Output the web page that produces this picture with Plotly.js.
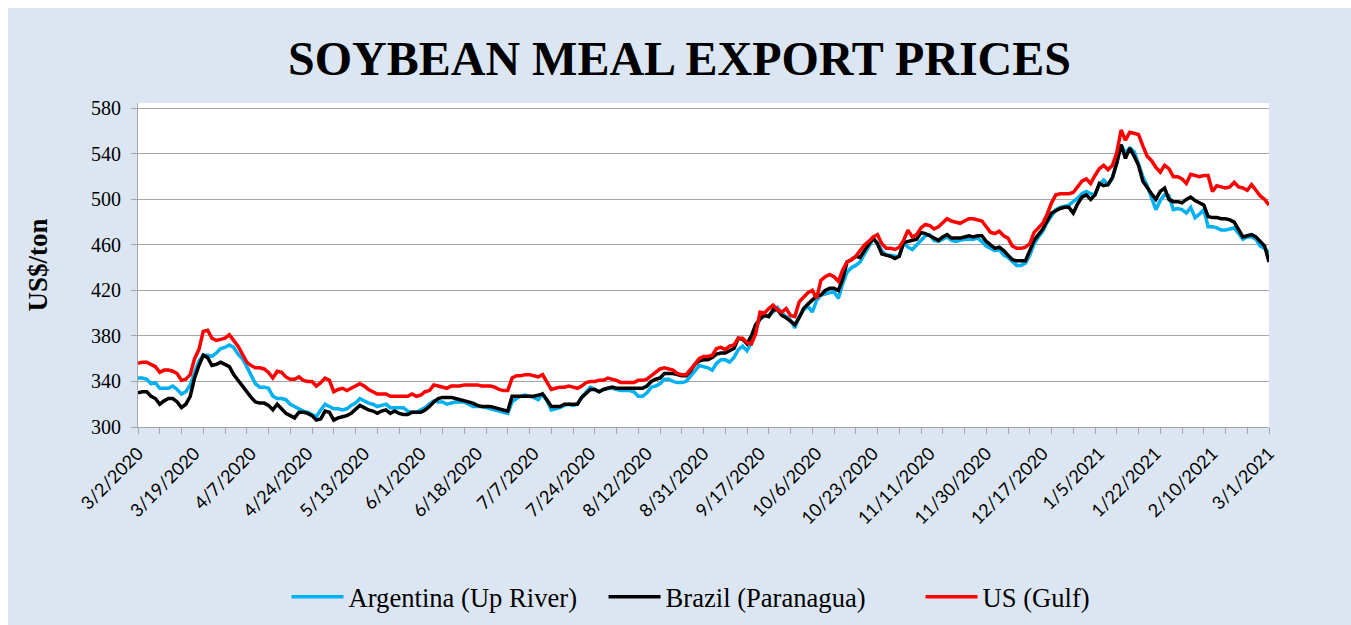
<!DOCTYPE html>
<html><head><meta charset="utf-8">
<script src="https://cdn.plot.ly/plotly-3.0.1.min.js"></script>
<style>
html,body{margin:0;padding:0;background:#ffffff;width:1351px;height:625px;overflow:hidden}
#chart{position:absolute;left:8px;top:8px;width:1343px;height:617px}
</style>
</head><body><div id="chart"></div>
<script>
// ---- Data (US$/ton), one value per weekday from 3/2/2020 to 3/1/2021 ----
const seriesNames = ['Argentina (Up River)', 'Brazil (Paranagua)', 'US (Gulf)'];

const argentina = [
 343,343,342,338,339,334,334,334,336,333,329,331,337,348,358,363,363,362,365,369,370,372,370,364,360,353,345,338,335,335,334,327,325,325,324,320,318,
 316,314,313,311,309,315,320,318,316,316,315,316,319,321,325,323,321,320,318,319,320,317,317,317,317,314,313,313,315,317,320,323,322,322,320,321,322,322,322,320,318,318,318,317,316,315,314,313,312,322,325,
 327,328,327,326,324,329,323,315,316,317,319,320,319,320,326,331,335,333,331,333,334,334,333,332,332,332,331,327,327,330,335,336,338,342,342,340,339,339,340,344,349,354,353,352,350,356,359,359,357,361,368,371,367,
 374,386,395,398,398,401,405,400,397,394,387,397,403,406,401,411,416,417,418,419,413,426,436,440,442,445,452,459,465,462,455,451,451,450,450,462,458,456,460,465,468,469,464,463,465,467,464,463,464,465,465,
 465,466,463,459,457,455,456,451,449,445,442,442,444,451,461,467,472,480,486,491,493,494,495,498,501,505,507,505,504,513,517,513,519,532,
 548,541,545,542,530,520,512,502,491,499,504,503,491,492,491,488,493,484,487,491,476,476,475,473,473,474,475,470,465,467,467,465,459,457,453
];

const brazil = [
 330,331,331,327,325,320,323,325,325,322,317,320,327,343,354,363,361,354,355,357,355,353,346,341,335,330,326,322,321,321,319,315,320,316,312,310,308,
 313,313,312,310,306,307,314,313,306,308,309,310,312,316,319,317,315,314,312,314,315,312,314,312,311,311,313,313,313,315,318,322,325,326,326,326,325,324,323,322,321,319,318,318,318,317,316,315,314,327,327,
 327,327,327,327,328,329,324,318,318,318,320,320,320,320,326,330,333,333,331,333,334,335,334,334,334,334,334,334,334,336,340,342,343,347,347,347,346,345,345,349,355,358,359,359,361,364,365,365,367,369,378,377,373,
 380,390,395,398,397,403,403,398,396,393,390,396,404,408,412,415,416,420,422,422,420,430,445,447,450,449,455,460,466,461,452,451,450,448,450,462,463,464,465,471,470,468,466,464,467,469,466,466,466,467,468,
 467,468,468,463,460,457,458,455,451,447,446,446,446,455,464,469,474,481,488,490,492,493,493,488,496,502,504,500,504,514,512,513,519,532,
 548,536,545,538,530,516,510,505,500,507,510,500,498,498,497,500,502,499,497,495,485,484,484,483,483,482,480,473,467,468,469,467,463,459,445
];

const usGulf = [
 356,357,357,355,353,348,350,350,349,347,341,342,346,360,368,384,385,378,376,377,378,381,376,371,364,357,354,352,352,351,348,343,349,348,344,342,342,
 344,341,340,340,336,339,343,341,331,333,334,332,334,336,338,336,333,331,329,329,329,327,327,327,327,327,329,327,328,331,332,337,336,335,334,336,336,336,337,337,337,337,336,336,336,335,333,332,332,343,345,
 345,346,346,345,344,346,340,333,334,335,335,336,335,334,336,339,340,340,341,341,343,342,341,339,339,339,339,341,341,342,345,348,351,352,351,350,347,346,346,350,355,360,362,362,363,369,370,368,371,372,378,378,374,
 373,382,401,400,404,407,403,401,404,398,397,410,414,418,420,413,429,432,434,432,428,438,445,447,450,455,460,463,467,469,461,457,457,456,458,464,473,467,469,475,478,477,474,476,480,483,481,480,479,481,483,
 483,482,481,476,471,470,472,468,466,459,457,457,458,461,471,475,479,487,497,504,505,505,505,506,511,516,518,514,521,527,530,526,530,541,
 561,552,559,558,557,547,538,534,528,524,530,527,520,520,518,514,522,521,520,521,521,507,512,511,510,511,515,511,510,508,513,508,503,500,495
];

const tickLabels = ['3/2/2020','3/19/2020','4/7/2020','4/24/2020','5/13/2020','6/1/2020','6/18/2020','7/7/2020','7/24/2020','8/12/2020','8/31/2020','9/17/2020','10/6/2020','10/23/2020','11/11/2020','11/30/2020','12/17/2020','1/5/2021','1/22/2021','2/10/2021','3/1/2021'];

const seriesColors = ['#00b0f0', '#000000', '#ff0000'];

// ---- Weekday calendar (the category positions) ----
const dates = [];
for (let d = new Date(2020, 2, 2); dates.length < argentina.length; d.setDate(d.getDate() + 1)) {
  const wd = d.getDay();
  if (wd === 0 || wd === 6) continue;
  dates.push((d.getMonth() + 1) + '/' + d.getDate() + '/' + d.getFullYear());
}
const xIdx = dates.map((_, i) => i);
const tickVals = tickLabels.map(l => dates.indexOf(l));

const allSeries = [argentina, brazil, usGulf];
const traces = allSeries.map((vals, k) => ({
  type: 'scatter', mode: 'lines',
  x: xIdx, y: vals, customdata: dates,
  name: seriesNames[k],
  line: {color: seriesColors[k], width: 3.5},
  hovertemplate: '%{customdata}: %{y}<extra>' + seriesNames[k] + '</extra>'
}));

const grey = '#a6a6a6';
const layout = {
  width: 1343, height: 617,
  paper_bgcolor: '#dce6f2', plot_bgcolor: '#ffffff',
  margin: {l: 130, r: 82, t: 95, b: 198, pad: 0, autoexpand: false},
  title: {
    text: '<b>SOYBEAN MEAL EXPORT PRICES</b>',
    font: {family: 'Liberation Serif, Times New Roman, serif', size: 48, color: '#000'},
    x: 0.5, xref: 'container', xanchor: 'center',
    y: 0.918, yref: 'container', yanchor: 'middle'
  },
  xaxis: {
    range: [0, dates.length - 1], fixedrange: true,
    tickmode: 'array', tickvals: tickVals, ticktext: tickLabels,
    tickangle: -45, ticks: '',
    tickfont: {family: 'Lato, Liberation Sans, sans-serif', size: 18, color: '#000'},
    ticklabelstandoff: 8,
    showline: true, linecolor: grey, linewidth: 1,
    showgrid: false, zeroline: false,
    minor: {tick0: 0, dtick: 5, ticks: 'outside', ticklen: 6, tickcolor: grey, tickwidth: 1, showgrid: false}
  },
  yaxis: {
    range: [300, 584.7], fixedrange: true,
    tick0: 300, dtick: 40, tickmode: 'linear',
    ticks: 'outside', ticklen: 6, tickcolor: grey, tickwidth: 1,
    tickfont: {family: 'Liberation Serif, Times New Roman, serif', size: 20, color: '#000'},
    ticklabelstandoff: 6,
    showgrid: true, gridcolor: grey, gridwidth: 1,
    showline: true, linecolor: grey, linewidth: 1, zeroline: false,
    title: {text: '<b>US$/ton</b>', font: {family: 'Liberation Serif, Times New Roman, serif', size: 27, color: '#000'}, standoff: 35}
  },
  showlegend: true,
  legend: {
    orientation: 'h',
    x: 0.2074, xref: 'container', xanchor: 'left',
    y: 0.0454, yref: 'container', yanchor: 'middle',
    font: {family: 'Liberation Serif, Times New Roman, serif', size: 26.6, color: '#000'},
    itemwidth: 52, entrywidth: 250, entrywidthmode: 'pixels',
    bgcolor: 'rgba(0,0,0,0)', traceorder: 'normal'
  }
};

Plotly.newPlot('chart', traces, layout, {displayModeBar: false, responsive: false});
</script>
</body></html>
